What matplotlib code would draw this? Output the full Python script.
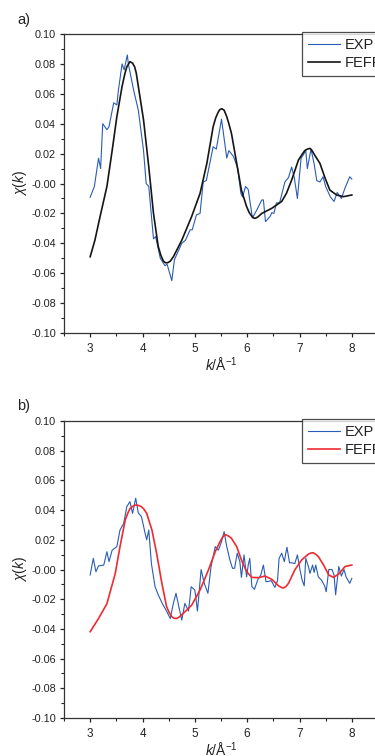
import matplotlib
matplotlib.use("Agg")
import matplotlib.pyplot as plt
from matplotlib.ticker import MultipleLocator, FormatStrFormatter

plt.rcParams['font.family'] = ['Liberation Sans', 'DejaVu Sans']
plt.rcParams['mathtext.fontset'] = 'custom'
plt.rcParams['mathtext.rm'] = 'Liberation Sans'
plt.rcParams['mathtext.it'] = 'Liberation Sans:italic'

# ---- panel a) ----
a_exp_k = [3.00, 3.08, 3.16, 3.20, 3.24, 3.32, 3.36, 3.45, 3.51, 3.54, 3.61, 3.65, 3.71, 3.73,
           3.83, 3.92, 4.02, 4.07, 4.12, 4.21, 4.25, 4.34, 4.43, 4.47, 4.56, 4.61, 4.75, 4.82,
           4.91, 4.95, 5.03, 5.10, 5.16, 5.22, 5.35, 5.41, 5.51, 5.61, 5.65, 5.74, 5.82, 5.88,
           5.91, 5.97, 6.02, 6.10, 6.18, 6.28, 6.31, 6.35, 6.44, 6.47, 6.51, 6.56, 6.62, 6.72,
           6.79, 6.85, 6.90, 6.96, 7.03, 7.07, 7.12, 7.15, 7.22, 7.28, 7.33, 7.39, 7.45, 7.50,
           7.59, 7.66, 7.72, 7.80, 7.87, 7.96, 8.00]
a_exp_chi = [-0.0092, -0.002, 0.0169, 0.010, 0.040, 0.036, 0.038, 0.054, 0.0525, 0.0625, 0.080,
             0.076, 0.086, 0.080, 0.0625, 0.049, 0.022, 0.000, -0.002, -0.037, -0.0355, -0.050,
             -0.055, -0.054, -0.065, -0.051, -0.040, -0.038, -0.031, -0.031, -0.021, -0.020,
             0.001, 0.002, 0.0246, 0.023, 0.043, 0.017, 0.022, 0.018, 0.010, -0.0066, -0.009,
             -0.002, -0.004, -0.023, -0.018, -0.011, -0.011, -0.0255, -0.022, -0.0195, -0.020,
             -0.013, -0.013, 0.001, 0.004, 0.011, 0.004, -0.010, 0.017, 0.019, 0.022, 0.010,
             0.023, 0.013, 0.002, 0.001, 0.0045, -0.002, -0.009, -0.012, -0.006, -0.010, -0.003,
             0.0045, 0.003]

a_feff_k = [3.00, 3.09, 3.19, 3.32, 3.42, 3.51, 3.61, 3.66, 3.70, 3.76, 3.81, 3.85, 3.88, 3.92,
            4.02, 4.12, 4.21, 4.30, 4.35, 4.40, 4.44, 4.48, 4.53, 4.59, 4.75, 4.94, 5.10, 5.23,
            5.35, 5.40, 5.45, 5.48, 5.52, 5.56, 5.61, 5.65, 5.70, 5.80, 5.89, 5.94, 5.99, 6.04,
            6.09, 6.12, 6.15, 6.20, 6.28, 6.47, 6.66, 6.75, 6.85, 6.98, 7.05, 7.10, 7.15, 7.20,
            7.24, 7.29, 7.39, 7.49, 7.58, 7.71, 7.84, 8.00]
a_feff_chi = [-0.049, -0.038, -0.022, -0.002, 0.022, 0.0447, 0.065, 0.073, 0.078, 0.0815, 0.0805,
              0.078, 0.074, 0.065, 0.0425, 0.011, -0.020, -0.042, -0.048, -0.052, -0.053, -0.053,
              -0.052, -0.049, -0.038, -0.022, -0.0066, 0.0135, 0.038, 0.044, 0.048, 0.0495, 0.050,
              0.049, 0.0447, 0.040, 0.0335, 0.0135, -0.0044, -0.010, -0.0155, -0.0195, -0.022,
              -0.023, -0.0233, -0.0225, -0.020, -0.0166, -0.012, -0.0066, 0.0023, 0.0157, 0.0195,
              0.022, 0.023, 0.0235, 0.022, 0.019, 0.0135, 0.0035, -0.0044, -0.0077, -0.0088,
              -0.0077]

# ---- panel b) ----
b_exp_k = [3.00, 3.06, 3.11, 3.16, 3.26, 3.32, 3.36, 3.42, 3.51, 3.57, 3.64, 3.70, 3.76, 3.81,
           3.87, 3.92, 3.98, 4.05, 4.08, 4.12, 4.17, 4.24, 4.30, 4.38, 4.46, 4.53, 4.59, 4.64,
           4.70, 4.75, 4.81, 4.88, 4.93, 5.00, 5.05, 5.12, 5.18, 5.25, 5.31, 5.39, 5.45, 5.51,
           5.56, 5.61, 5.67, 5.72, 5.76, 5.81, 5.86, 5.89, 5.94, 5.99, 6.02, 6.05, 6.09, 6.14,
           6.20, 6.26, 6.31, 6.36, 6.41, 6.46, 6.53, 6.58, 6.61, 6.66, 6.71, 6.76, 6.81, 6.86,
           6.91, 6.96, 7.01, 7.05, 7.09, 7.12, 7.17, 7.20, 7.25, 7.28, 7.31, 7.36, 7.42, 7.48,
           7.51, 7.56, 7.62, 7.66, 7.69, 7.75, 7.80, 7.85, 7.89, 7.96, 8.00]
b_exp_chi = [-0.0037, 0.0075, -0.0015, 0.0024, 0.003, 0.012, 0.0053, 0.013, 0.0154, 0.0266,
             0.031, 0.0423, 0.0457, 0.0378, 0.048, 0.038, 0.0356, 0.0244, 0.020, 0.0266, 0.004,
             -0.0116, -0.017, -0.023, -0.028, -0.033, -0.0228, -0.016, -0.026, -0.034, -0.0228,
             -0.028, -0.0116, -0.0138, -0.028, 0.000, -0.0093, -0.016, 0.002, 0.0154, 0.013,
             0.0187, 0.0255, 0.0154, 0.0064, 0.0008, 0.0008, 0.011, 0.0053, -0.0053, 0.0098,
             -0.005, 0.003, 0.0075, -0.0116, -0.0133, -0.0071, -0.0037, 0.003, -0.0082, -0.008,
             -0.0075, -0.012, -0.0075, 0.0075, 0.011, 0.0053, 0.015, 0.0045, 0.0045, 0.004,
             0.0098, -0.0003, -0.0071, -0.011, 0.0075, 0.002, -0.0026, 0.003, -0.002, 0.003,
             -0.005, -0.0071, -0.011, -0.015, 0.000, 0.000, -0.0037, -0.017, 0.002, -0.0044,
             0.000, -0.005, -0.0093, -0.006]

b_feff_k = [3.00, 3.16, 3.32, 3.48, 3.57, 3.67, 3.72, 3.76, 3.81, 3.86, 3.92, 3.98, 4.03, 4.08,
            4.18, 4.27, 4.37, 4.46, 4.51, 4.56, 4.60, 4.65, 4.70, 4.78, 4.94, 5.10, 5.26, 5.39,
            5.48, 5.53, 5.58, 5.64, 5.70, 5.80, 5.89, 5.99, 6.09, 6.22, 6.34, 6.47, 6.60, 6.65,
            6.69, 6.74, 6.79, 6.91, 7.04, 7.17, 7.21, 7.26, 7.31, 7.36, 7.46, 7.56, 7.65, 7.75,
            7.87, 8.00]
b_feff_chi = [-0.0419, -0.033, -0.023, -0.0026, 0.0154, 0.0333, 0.038, 0.041, 0.0425, 0.0434,
              0.0432, 0.0423, 0.0405, 0.0378, 0.0266, 0.0109, -0.0093, -0.025, -0.029, -0.0318,
              -0.0328, -0.033, -0.032, -0.0295, -0.024, -0.0138, -0.0003, 0.012, 0.0187, 0.0217,
              0.0235, 0.0226, 0.021, 0.0154, 0.0064, -0.0015, -0.0053, -0.0055, -0.0044, -0.0066,
              -0.011, -0.012, -0.0125, -0.0115, -0.0093, -0.0003, 0.0064, 0.0104, 0.011, 0.0113,
              0.0103, 0.0087, 0.003, -0.0037, -0.0053, -0.003, 0.002, 0.003]

panel_labels = ['a)', 'b)']
series_labels = ['EXP', 'FEFF']
exp_color = '#2a5cb4'
feff_colors = ['#151515', '#ee2b30']

fig = plt.figure(figsize=(3.75, 7.56), dpi=100)
W, H = 375.0, 756.0
# axes in pixels: left, top, right, bottom
panels = [
    (64, 34, 378, 333, a_exp_k, a_exp_chi, a_feff_k, a_feff_chi, 20),
    (64, 421, 378, 718, b_exp_k, b_exp_chi, b_feff_k, b_feff_chi, 406),
]
tick_col = '#222222'
for i, (l, t, r, b, ek, ec, fk, fc, lab_y) in enumerate(panels):
    ax = fig.add_axes([l / W, 1 - b / H, (r - l) / W, (b - t) / H])
    ax.plot(ek, ec, color=exp_color, lw=0.8, label=series_labels[0])
    ax.plot(fk, fc, color=feff_colors[i], lw=1.2, label=series_labels[1])
    ax.set_xlim(2.5, 8.5)
    ax.set_ylim(-0.10, 0.10)
    ax.xaxis.set_major_locator(MultipleLocator(1))
    ax.xaxis.set_minor_locator(MultipleLocator(0.5))
    ax.yaxis.set_major_locator(MultipleLocator(0.02))
    ax.yaxis.set_minor_locator(MultipleLocator(0.01))
    ax.yaxis.set_major_formatter(FormatStrFormatter('%.2f'))
    ax.tick_params(which='major', direction='out', length=3.2, width=0.9, colors=tick_col,
                   labelsize=7.8, pad=2.5)
    ax.tick_params(which='minor', direction='out', length=2, width=0.8, colors=tick_col)
    ax.tick_params(axis='x', which='major', labelsize=8.5, pad=4)
    ax.tick_params(top=False, right=False, which='both')
    for s in ax.spines.values():
        s.set_color('#333333')
        s.set_linewidth(0.9)
    ax.set_ylabel(r'$\chi$($\it{k}$)', fontsize=10, color=tick_col)
    ax.yaxis.set_label_coords(-0.113, 0.5)
    ax.set_xlabel(r'$\it{k}$/Å$^{-1}$', fontsize=10, color=tick_col, labelpad=1)
    leg = ax.legend(loc='upper left', bbox_to_anchor=(302 / W, 1 - (t - 2) / H),
                    bbox_transform=fig.transFigure, fontsize=10.5, frameon=True, fancybox=False,
                    edgecolor='#222222', handlelength=2.2, handletextpad=0.3,
                    borderpad=0.4, labelspacing=0.3, borderaxespad=0)
    leg.get_frame().set_linewidth(0.9)
    for tx in leg.get_texts():
        tx.set_color(tick_col)
    fig.text(17 / W, 1 - lab_y / H, panel_labels[i], fontsize=10.5, color=tick_col,
             ha='left', va='center')

fig.savefig('out.png', dpi=100)
